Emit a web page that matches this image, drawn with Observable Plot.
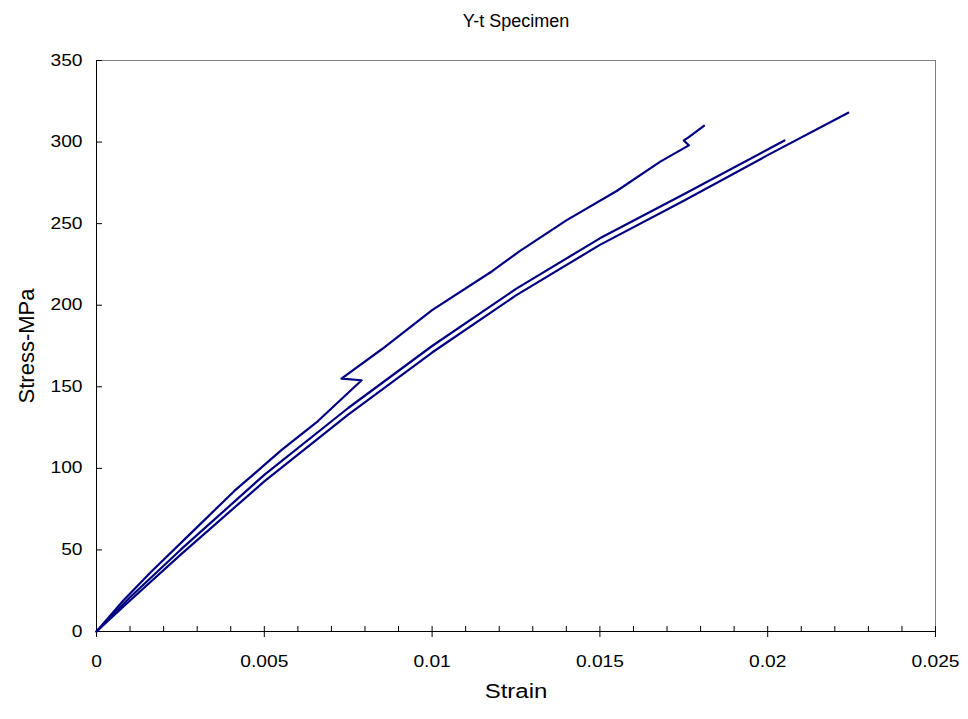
<!DOCTYPE html>
<html><head><meta charset="utf-8">
<script src="https://cdn.jsdelivr.net/npm/d3@7"></script>
<script src="https://cdn.jsdelivr.net/npm/@observablehq/plot@0.6"></script>
<style>
body{margin:0;background:#fff;}
#chart svg{font-family:"Liberation Sans",Arial,sans-serif;}
</style></head><body><div id="chart"></div>
<script>
const title = "Y-t Specimen";
const xLabel = "Strain";
const yLabel = "Stress-MPa";

const strainA = [0, 0.0008, 0.0016, 0.0029, 0.0041, 0.0055, 0.0066, 0.0079, 0.0073, 0.0085, 0.0100, 0.0118, 0.0126, 0.0140, 0.0155, 0.0168, 0.01765, 0.0175, 0.01765, 0.0181];
const stressA = [0, 19, 36, 62, 86, 111, 129, 154, 155, 173, 197, 221, 233, 252, 270, 288, 298, 301, 303, 310];

const strainB = [0, 0.001, 0.0025, 0.005, 0.0075, 0.01, 0.0125, 0.015, 0.0175, 0.0205];
const stressB = [0, 21, 50, 96, 137, 175, 210, 241, 268, 301];

const strainC = [0, 0.001, 0.0025, 0.005, 0.0075, 0.01, 0.0125, 0.015, 0.0175, 0.02, 0.0224];
const stressC = [0, 19, 47, 92, 133, 171, 206, 237, 264, 292, 318];

const xMajorTicks = [0, 0.005, 0.01, 0.015, 0.02, 0.025];
const xMinorTicks = [0.001, 0.002, 0.003, 0.004, 0.006, 0.007, 0.008, 0.009, 0.011, 0.012, 0.013, 0.014, 0.016, 0.017, 0.018, 0.019, 0.021, 0.022, 0.023, 0.024];
const yTicks = [0, 50, 100, 150, 200, 250, 300, 350];

const rows = [];
[["A", strainA, stressA], ["B", strainB, stressB], ["C", strainC, stressC]].forEach(([s, xs, ys]) => {
  xs.forEach((x, i) => rows.push({series: s, strain: x, stress: ys[i]}));
});

const blank = () => "";
const plot = Plot.plot({
  width: 968, height: 719,
  marginLeft: 96, marginRight: 33, marginTop: 60, marginBottom: 88,
  x: {domain: [0, 0.025]},
  y: {domain: [0, 350]},
  style: {fontFamily: "'Liberation Sans', Arial, sans-serif", fontSize: "16px", color: "#000", background: "#fff"},
  marks: [
    Plot.frame({stroke: "#808080"}),
    Plot.axisX(xMinorTicks, {tickSize: -5, tickFormat: blank, label: null, stroke: "#000"}),
    Plot.axisX(xMajorTicks, {tickSize: -5, tickFormat: blank, label: null, stroke: "#000"}),
    Plot.axisX(xMajorTicks, {tickSize: 6, tickPadding: 18, tickFormat: d3.format("~g"), label: null, stroke: "#000", fontSize: 16}),
    Plot.axisY(yTicks, {tickSize: -6, tickFormat: blank, label: null, stroke: "#000"}),
    Plot.axisY(yTicks, {tickSize: 0, tickPadding: 14, label: null, fontSize: 16}),
    Plot.ruleX([0], {stroke: "#000"}),
    Plot.ruleY([0], {stroke: "#000"}),
    Plot.line(rows, {x: "strain", y: "stress", z: "series", stroke: "#000080", strokeWidth: 2.2}),
    Plot.text([title], {text: d => d, frameAnchor: "top", dy: -39, fontSize: 18, lineAnchor: "middle", textAnchor: "middle"}),
    Plot.text([xLabel], {text: d => d, frameAnchor: "bottom", dy: 60, fontSize: 20, lineAnchor: "middle", textAnchor: "middle"}),
    Plot.text([yLabel], {text: d => d, frameAnchor: "left", dx: -70, rotate: -90, fontSize: 22, lineAnchor: "middle", textAnchor: "middle"})
  ]
});
document.getElementById("chart").appendChild(plot);

// Horizontal stretch of tick labels and x label to match the reference's wide lettering
const STRETCH = 1.2;
plot.querySelectorAll("text").forEach(t => {
  if (!t.textContent) return;
  if (t.textContent === title) return;
  const tr = t.getAttribute("transform") || "";
  if (tr.includes("rotate")) return;
  const len = t.getComputedTextLength();
  t.setAttribute("textLength", len * STRETCH);
  t.setAttribute("lengthAdjust", "spacingAndGlyphs");
});
</script></body></html>
